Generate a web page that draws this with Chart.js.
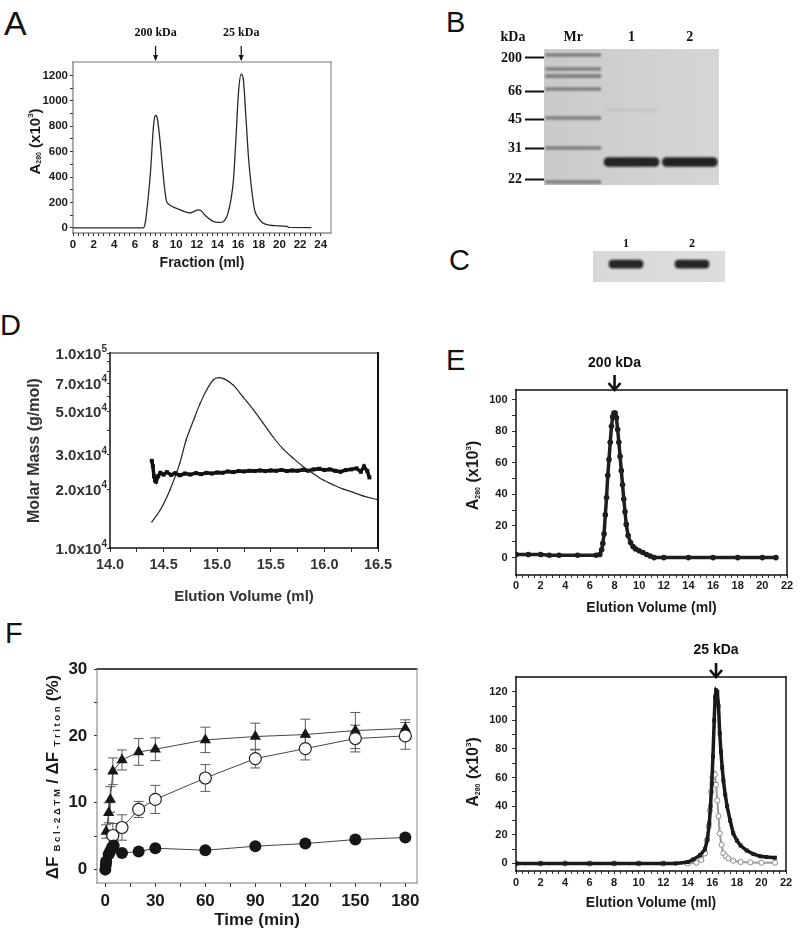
<!DOCTYPE html>
<html>
<head>
<meta charset="utf-8">
<script src="https://cdn.jsdelivr.net/npm/chart.js@4.4.1/dist/chart.umd.min.js"></script>
<style>
  html, body { margin: 0; padding: 0; background: #fff; }
  #page { position: relative; width: 800px; height: 933px; overflow: hidden; background: #fff; }
  #page canvas { position: absolute; left: 0; top: 0; }
  .tag { position: absolute; font-family: 'Liberation Sans', Arial, sans-serif; font-size: 29px; line-height: 1; color: #111; }
</style>
</head>
<body>
<div id="page">
  <div class="tag" style="left:4px;top:6px;font-size:34px">A</div>
  <div class="tag" style="left:446px;top:8px">B</div>
  <div class="tag" style="left:449px;top:246px">C</div>
  <div class="tag" style="left:0px;top:311px">D</div>
  <div class="tag" style="left:446px;top:346px">E</div>
  <div class="tag" style="left:5px;top:619px">F</div>
</div>
<script>
const SANS = "'Liberation Sans', Arial, sans-serif";
const SERIF = "'Liberation Serif', 'Times New Roman', serif";
const W = 800, H = 933;

// ---- A: gel filtration, A280 vs fraction ----
const aVolume = [0, 2, 4, 6, 6.8, 7.0, 7.2, 7.5, 7.8, 7.95, 8.1, 8.35, 8.6, 8.85, 9.05, 9.3, 9.7, 10.2, 10.8, 11.3, 11.7, 12.1, 12.4, 12.8, 13.3, 13.8, 14.3, 14.7, 15.0, 15.3, 15.55, 15.8, 16.05, 16.3, 16.5, 16.75, 17.0, 17.3, 17.6, 17.9, 18.3, 18.8, 19.5, 20.3, 20.8, 20.85, 23.1];
const aAbsorbance = [0, 0, 0, 0, 0, 40, 170, 430, 800, 885, 880, 750, 540, 330, 215, 185, 165, 148, 128, 118, 128, 142, 135, 100, 65, 45, 43, 60, 110, 220, 380, 720, 1080, 1210, 1170, 880, 560, 310, 140, 85, 45, 25, 18, 14, 12, 4, 3];
const aStandardVolume = [8.0, 16.3];
const aStandardLabel = ['200 kDa', '25 kDa'];
const aXTicks = [0, 2, 4, 6, 8, 10, 12, 14, 16, 18, 20, 22, 24];
const aYTicks = [0, 200, 400, 600, 800, 1000, 1200];

// ---- B: SDS-PAGE (band position = % of gel height from the top) ----
const gelLanes = ['Mr', '1', '2'];
const markerBands = [4.4, 14.7, 19.9, 29.4, 50.7, 72.8, 97.8];
const markerTicks = [6.6, 30.9, 51.5, 72.8, 95.6];
const markerLabels = ['200', '66', '45', '31', '22'];
const sampleLanes = ['1', '2'];
const sampleBands = [83.1, 83.1];
const faintLanes = ['1'];
const faintBands = [44.9];

// ---- C: western blot ----
const blotLanes = ['1', '2'];
const blotBands = [42, 42];

// ---- D: SEC-MALS molar mass ----
const dFitVolume = [14.39, 14.47, 14.56, 14.65, 14.71, 14.78, 14.84, 14.90, 14.96, 15.01, 15.06, 15.15, 15.24, 15.34, 15.43, 15.52, 15.61, 15.71, 15.80, 15.89, 15.99, 16.08, 16.17, 16.27, 16.36, 16.50];
const dFitSignal = [13600, 15700, 19900, 27100, 35800, 45300, 55000, 64400, 72500, 74800, 73900, 68400, 59600, 50900, 43600, 37200, 32400, 28800, 26200, 24200, 22300, 21100, 20100, 19300, 18500, 17700];
const dMonoVolume = [14.39, 14.40, 14.41, 14.42, 14.43, 14.45, 14.47, 14.50, 14.53, 14.57, 14.61, 14.65, 14.70, 14.75, 14.80, 14.85, 14.90, 14.95, 15.00, 15.05, 15.10, 15.15, 15.20, 15.25, 15.30, 15.35, 15.40, 15.45, 15.50, 15.55, 15.60, 15.65, 15.70, 15.75, 15.80, 15.85, 15.90, 15.95, 16.00, 16.05, 16.10, 16.15, 16.20, 16.25, 16.30, 16.34, 16.37, 16.40, 16.42];
const dMonoMass = [28000, 26300, 23300, 22200, 21900, 23400, 24300, 23800, 24500, 23700, 24200, 23600, 24100, 23800, 24200, 23900, 24300, 24100, 24400, 24300, 24700, 24500, 24800, 24700, 24900, 24800, 25000, 24800, 25000, 24900, 25100, 24800, 25000, 24900, 25200, 24900, 25300, 25500, 25100, 25300, 24900, 24600, 25100, 25300, 25600, 24600, 26200, 24800, 23000];
const dXTicks = [14.0, 14.5, 15.0, 15.5, 16.0, 16.5];
const dXTickLabels = ['14.0', '14.5', '15.0', '15.5', '16.0', '16.5'];
const dYTicks = [10000, 20000, 30000, 50000, 70000, 100000];
const dYMantissa = ['1.0', '2.0', '3.0', '5.0', '7.0', '1.0'];
const dYExponent = ['4', '4', '4', '4', '4', '5'];
const dYMinor = [10000, 20000, 30000, 40000, 50000, 60000, 70000, 80000, 90000, 100000];

// ---- E top: oligomer peak ----
const etVolume = [0, 1, 2, 2.7, 3.5, 5, 6.5, 6.8, 6.95, 7.05, 7.15, 7.25, 7.35, 7.45, 7.55, 7.65, 7.75, 7.85, 7.95, 8.05, 8.15, 8.25, 8.35, 8.45, 8.55, 8.65, 8.75, 8.85, 8.95, 9.1, 9.3, 9.5, 9.7, 10.0, 10.3, 10.6, 10.9, 11.2, 12, 14, 16, 18, 20, 21.1];
const etAbsorbance = [2, 2, 2, 1.5, 1.5, 1.5, 1.5, 2, 5, 9, 15, 27, 38, 52, 62, 73, 83, 89, 91.5, 91.5, 88.5, 81, 73, 64, 55, 46, 37, 29, 21, 14, 9.5, 7, 5.5, 4.3, 3.2, 2, 1, 0, 0, 0, 0, 0, 0, 0];
const etStandardVolume = [8.0];
const etStandardLabel = ['200 kDa'];

// ---- E bottom: monomer peaks ----
const ebSquareVolume = [0, 2, 4, 6, 8, 10, 12, 13, 14, 14.45, 15.0, 15.4, 15.6, 15.75, 15.85, 15.95, 16.05, 16.15, 16.22, 16.3, 16.4, 16.5, 16.6, 16.7, 16.8, 16.9, 17.05, 17.2, 17.45, 17.7, 18.0, 18.3, 18.8, 19.35, 19.9, 20.4, 21.1];
const ebSquareAbsorbance = [0, 0, 0, 0, 0, 0, 0, 0, 1, 2.8, 5.8, 10, 17, 28, 40, 56, 75, 100, 116, 121, 120, 110, 91, 78, 67, 58, 48, 40, 30, 21, 16, 12.5, 9, 6.5, 5, 4.5, 4];
const ebCircleVolume = [0, 2, 4, 6, 8, 10, 12, 14, 14.7, 15.1, 15.4, 15.55, 15.7, 15.8, 15.9, 16.0, 16.1, 16.2, 16.3, 16.4, 16.5, 16.6, 16.75, 16.9, 17.1, 17.3, 17.7, 18.3, 19.1, 20, 21.1];
const ebCircleAbsorbance = [0, 0, 0, 0, 0, 0, 0, 0, 0.5, 2.3, 7, 16, 26, 37, 50, 60, 63, 62, 55, 44, 33, 21, 13, 7, 5, 3.5, 1.9, 1, 0.7, 0.5, 0.5];
const ebStandardVolume = [16.3];
const ebStandardLabel = ['25 kDa'];
const eXTicks = [0, 2, 4, 6, 8, 10, 12, 14, 16, 18, 20, 22];
const etYTicks = [0, 20, 40, 60, 80, 100];
const ebYTicks = [0, 20, 40, 60, 80, 100, 120];

// ---- F: release kinetics ----
const fTriTime = [0.5, 2, 3, 4.5, 10, 20, 30, 60, 90, 120, 150, 180];
const fTriValue = [5.7, 8.5, 10.5, 14.7, 16.4, 17.6, 18.0, 19.4, 19.9, 20.2, 20.8, 21.1];
const fTriError = [1.0, 1.5, 1.9, 2.0, 1.5, 2.0, 1.7, 1.9, 2.0, 2.3, 2.7, 1.3];
const fOpenTime = [4.5, 10, 20, 30, 60, 90, 120, 150, 180];
const fOpenValue = [5.1, 6.3, 9.0, 10.5, 13.7, 16.6, 18.1, 19.6, 20.0];
const fOpenError = [1.8, 1.9, 1.2, 2.1, 2.0, 1.4, 1.7, 2.0, 2.0];
const fFillTime = [0, 0.3, 0.5, 2, 3, 4, 5, 10, 20, 30, 60, 90, 120, 150, 180];
const fFillValue = [0, 0.7, 1.2, 2.3, 2.8, 3.3, 3.6, 2.5, 2.7, 3.2, 2.9, 3.5, 3.9, 4.5, 4.8];
const fXTicks = [0, 30, 60, 90, 120, 150, 180];
const fYTicks = [0, 10, 20, 30];

// y titles with sub/superscripts: [text, font size, vertical shift]
const titleRuns = {
  a: [['A', 15, 0], ['280', 7, 3.5], [' (x10', 15, 0], ['3', 8, -5], [')', 15, 0]],
  e: [['A', 16, 0], ['280', 7, 4], [' (x10', 16, 0], ['3', 8, -5.5], [')', 16, 0]],
  f: [['\u0394F', 17, 0], ['  B c l - 2 \u0394 T M  ', 9.5, 4], ['/ \u0394F', 17, 0], ['  T r i t o n  ', 9.5, 4], ['(%)', 17, 0]]
};

Chart.defaults.font.family = SANS;
Chart.defaults.color = '#222';
Chart.defaults.animation = false;
Chart.defaults.plugins.legend.display = false;
Chart.defaults.plugins.tooltip.enabled = false;

// box drawn round the plot area, one stroke per side
const frame = {
  id: 'frame',
  afterDatasetsDraw(chart, args, opts) {
    const { ctx, chartArea: a } = chart;
    const sides = {
      top: [a.left, a.top, a.right, a.top],
      right: [a.right, a.top, a.right, a.bottom],
      bottom: [a.left, a.bottom, a.right, a.bottom],
      left: [a.left, a.top, a.left, a.bottom]
    };
    ctx.save();
    ctx.lineCap = 'square';
    for (const side of Object.keys(sides)) {
      const s = opts[side];
      if (!s) continue;
      const p = sides[side];
      ctx.strokeStyle = s[0];
      ctx.lineWidth = s[1];
      ctx.beginPath();
      ctx.moveTo(p[0], p[1]);
      ctx.lineTo(p[2], p[3]);
      ctx.stroke();
    }
    ctx.restore();
  }
};

// rotated y title with sub/superscripts
const richTitle = {
  id: 'richTitle',
  afterDraw(chart, args, opts) {
    if (!opts.key) return;
    const { ctx, chartArea: a } = chart;
    const runs = titleRuns[opts.key];
    ctx.save();
    ctx.translate(opts.x, (a.top + a.bottom) / 2 + (opts.dy || 0));
    ctx.rotate(-Math.PI / 2);
    ctx.fillStyle = '#1a1a1a';
    ctx.textBaseline = 'middle';
    ctx.textAlign = 'left';
    let total = 0;
    for (const [text, size] of runs) {
      ctx.font = `bold ${size}px ${SANS}`;
      total += ctx.measureText(text).width;
    }
    let x = -total / 2;
    for (const [text, size, shift] of runs) {
      ctx.font = `bold ${size}px ${SANS}`;
      ctx.fillText(text, x, shift);
      x += ctx.measureText(text).width;
    }
    ctx.restore();
  }
};

// log-axis labels of panel D: mantissa x10 with a raised exponent
const powerLabels = {
  id: 'powerLabels',
  afterDraw(chart, args, opts) {
    if (!opts.on) return;
    const { ctx, chartArea: a, scales: { y } } = chart;
    ctx.save();
    ctx.fillStyle = '#333';
    ctx.textBaseline = 'alphabetic';
    ctx.textAlign = 'left';
    dYTicks.forEach((v, i) => {
      const py = y.getPixelForValue(v);
      const base = `${dYMantissa[i]}x10`;
      ctx.font = `bold 15px ${SANS}`;
      const w1 = ctx.measureText(base).width;
      ctx.font = `bold 10px ${SANS}`;
      const w2 = ctx.measureText(dYExponent[i]).width;
      const x0 = a.left - 3 - w1 - w2;
      ctx.font = `bold 15px ${SANS}`;
      ctx.fillText(base, x0, py + 5.5);
      ctx.font = `bold 10px ${SANS}`;
      ctx.fillText(dYExponent[i], x0 + w1, py - 1);
    });
    ctx.restore();
  }
};

// molecular weight standards marked above the plot
const standards = {
  id: 'standards',
  afterDraw(chart, args, opts) {
    if (!opts.values) return;
    const { ctx, chartArea: a, scales: { x } } = chart;
    ctx.save();
    ctx.fillStyle = '#111';
    ctx.strokeStyle = '#111';
    opts.values.forEach((v, i) => {
      const px = x.getPixelForValue(v);
      ctx.font = opts.font;
      ctx.textAlign = 'center';
      ctx.textBaseline = 'middle';
      ctx.fillText(opts.labels[i], px, a.top - opts.textGap);
      ctx.lineWidth = opts.lineWidth;
      ctx.beginPath();
      ctx.moveTo(px, a.top - opts.arrowFrom);
      ctx.lineTo(px, a.top - opts.arrowTo);
      ctx.stroke();
      const hw = opts.headWidth, hl = opts.headLength, tip = a.top - opts.arrowTo + 1;
      ctx.beginPath();
      ctx.moveTo(px - hw, tip - hl);
      ctx.lineTo(px, tip);
      ctx.lineTo(px + hw, tip - hl);
      if (opts.open) { ctx.lineJoin = 'miter'; ctx.stroke(); } else { ctx.closePath(); ctx.fill(); }
    });
    ctx.restore();
  }
};

// vertical error bars with caps, under the markers
const errorBars = {
  id: 'errorBars',
  beforeDatasetsDraw(chart, args, opts) {
    if (!opts.cap) return;
    const { ctx, scales: { x, y } } = chart;
    ctx.save();
    ctx.strokeStyle = opts.color;
    ctx.lineWidth = 1;
    for (const ds of chart.data.datasets) {
      if (!ds.errors) continue;
      ds.data.forEach((p, i) => {
        const e = ds.errors[i];
        const px = x.getPixelForValue(p.x);
        const hi = y.getPixelForValue(p.y + e), lo = y.getPixelForValue(p.y - e);
        ctx.beginPath();
        ctx.moveTo(px, hi); ctx.lineTo(px, lo);
        ctx.moveTo(px - opts.cap, hi); ctx.lineTo(px + opts.cap, hi);
        ctx.moveTo(px - opts.cap, lo); ctx.lineTo(px + opts.cap, lo);
        ctx.stroke();
      });
    }
    ctx.restore();
  }
};

// gel / membrane background, bands drawn slightly blurred
const gel = {
  id: 'gel',
  beforeDatasetsDraw(chart, args, opts) {
    if (!opts.color) return;
    const { ctx, chartArea: a } = chart;
    const g = ctx.createLinearGradient(a.left, 0, a.right, 0);
    g.addColorStop(0, opts.color[0]);
    g.addColorStop(1, opts.color[1]);
    ctx.fillStyle = g;
    ctx.fillRect(a.left, a.top, a.right - a.left, a.bottom - a.top);
    ctx.save();
    ctx.filter = `blur(${opts.blur}px)`;
  },
  afterDatasetsDraw(chart, args, opts) {
    if (!opts.color) return;
    chart.ctx.restore();
  }
};

// loose text labels
const notes = {
  id: 'notes',
  afterDraw(chart, args, opts) {
    if (!opts.items) return;
    const { ctx } = chart;
    ctx.save();
    ctx.fillStyle = '#111';
    ctx.textAlign = 'center';
    ctx.textBaseline = 'middle';
    for (const n of opts.items) {
      ctx.font = n.font;
      ctx.fillText(n.text, n.x, n.y);
    }
    ctx.restore();
  }
};

Chart.register(frame, richTitle, powerLabels, standards, errorBars, gel, notes);

function canvas() {
  const c = document.createElement('canvas');
  c.width = W;
  c.height = H;
  document.getElementById('page').appendChild(c);
  return c.getContext('2d');
}

// padding so that the plot area lands on area = [left, top, right, bottom]
function place(area, yW, xH, xOnTop) {
  return {
    left: area[0] - yW,
    right: W - area[2],
    top: xOnTop ? area[1] - xH : area[1],
    bottom: xOnTop ? H - area[3] : H - area[3] - xH
  };
}

function stepTicks(from, to, step) {
  const n = Math.round((to - from) / step);
  return Array.from({ length: n + 1 }, (_, i) => +(from + i * step).toFixed(6));
}

function axis(o) {
  const all = o.all || stepTicks(o.majors[0], o.majors[o.majors.length - 1], o.step);
  const vertical = o.position === 'left';
  return {
    type: o.type || 'linear',
    position: o.position,
    min: o.min,
    max: o.max,
    afterBuildTicks: s => { s.ticks = all.map(v => ({ value: v })); },
    afterFit: s => { if (vertical) s.width = o.size; else s.height = o.size; },
    grid: { drawOnChartArea: false, drawTicks: true, tickLength: o.tick, tickColor: o.tickColor || '#333', tickWidth: 1 },
    border: { display: false },
    ticks: {
      autoSkip: false,
      maxRotation: 0,
      padding: o.pad,
      color: o.color || '#1a1a1a',
      font: { family: SANS, size: o.font, weight: 'bold' },
      callback: v => {
        if (o.noLabels) return '';
        const i = o.majors.findIndex(m => Math.abs(m - v) < 1e-6 * Math.max(1, Math.abs(m)));
        return i < 0 ? '' : (o.labels ? o.labels[i] : String(o.majors[i]));
      }
    },
    title: o.title
      ? { display: true, text: o.title, color: o.color || '#1a1a1a', padding: o.titlePad || 0, font: { family: SANS, size: o.titleSize, weight: 'bold' } }
      : { display: false }
  };
}

const pts = (xs, ys) => xs.map((x, i) => ({ x, y: ys[i] }));

// ---------- A ----------
const aArea = [73, 62, 331, 233];
new Chart(canvas(), {
  type: 'scatter',
  data: {
    datasets: [{
      data: pts(aVolume, aAbsorbance),
      showLine: true,
      borderColor: '#2a2a2a',
      borderWidth: 1.3,
      pointRadius: 0,
      cubicInterpolationMode: 'monotone'
    }]
  },
  options: {
    responsive: false,
    layout: { padding: place(aArea, 60, 38.4) },
    scales: {
      x: axis({ position: 'bottom', min: 0, max: 25, majors: aXTicks, step: 0.5, size: 38.4, tick: 3, pad: 2, font: 11.5, title: 'Fraction (ml)', titleSize: 14 }),
      y: axis({ position: 'left', min: -40, max: 1305, majors: aYTicks, step: 100, size: 60, tick: 3, pad: 2, font: 11.5 })
    },
    plugins: {
      frame: { top: ['#777', 1], right: ['#777', 1], bottom: ['#555', 1], left: ['#555', 1] },
      richTitle: { x: 36, dy: -6, key: 'a' },
      standards: { values: aStandardVolume, labels: aStandardLabel, font: `bold 12px ${SERIF}`, textGap: 29, arrowFrom: 16, arrowTo: 2, lineWidth: 1.2, headWidth: 2.5, headLength: 6, open: false }
    }
  }
});

// ---------- B ----------
const gelArea = [544, 49, 719, 185];
new Chart(canvas(), {
  type: 'bar',
  data: {
    labels: gelLanes,
    datasets: [
      { data: markerBands.map(p => ({ x: 'Mr', y: [p - 1.1, p + 1.1] })), backgroundColor: '#7c7c7c', barThickness: 55, grouped: false },
      { data: faintBands.map((p, i) => ({ x: faintLanes[i], y: [p - 0.4, p + 0.4] })), backgroundColor: '#bcbcbc', barThickness: 50, grouped: false },
      { data: sampleBands.map((p, i) => ({ x: sampleLanes[i], y: [p - 3.3, p + 3.3] })), backgroundColor: '#232323', barThickness: 55, borderRadius: 5, borderSkipped: false, grouped: false }
    ]
  },
  options: {
    responsive: false,
    layout: { padding: place(gelArea, 60, 20, true) },
    scales: {
      x: {
        type: 'category', position: 'top', offset: true,
        afterFit: s => { s.height = 20; },
        grid: { display: false, drawTicks: false },
        border: { display: false },
        ticks: { padding: 3.6, color: '#111', font: { family: SERIF, size: 14, weight: 'bold' } }
      },
      y: {
        type: 'linear', position: 'left', reverse: true, min: 0, max: 100,
        afterBuildTicks: s => { s.ticks = markerTicks.map(v => ({ value: v })); },
        afterFit: s => { s.width = 60; },
        grid: { drawOnChartArea: false, drawTicks: true, tickLength: 19, tickWidth: 2, tickColor: '#111' },
        border: { display: false },
        ticks: { autoSkip: false, padding: 3, color: '#111', font: { family: SERIF, size: 14, weight: 'bold' }, callback: (v, i) => markerLabels[i] }
      }
    },
    plugins: {
      gel: { color: ['#cacaca', '#d6d6d6'], blur: 1 },
      notes: { items: [{ text: 'kDa', x: 513, y: 37, font: `bold 14px ${SERIF}` }] }
    }
  }
});

// ---------- C ----------
const blotArea = [593, 251, 725, 282];
new Chart(canvas(), {
  type: 'bar',
  data: {
    labels: blotLanes,
    datasets: [
      { data: blotBands.map((p, i) => ({ x: blotLanes[i], y: [p - 13, p + 13] })), backgroundColor: '#252525', barThickness: 34, borderRadius: 4, borderSkipped: false, grouped: false }
    ]
  },
  options: {
    responsive: false,
    layout: { padding: place(blotArea, 0, 12, true) },
    scales: {
      x: {
        type: 'category', position: 'top', offset: true,
        afterFit: s => { s.height = 12; },
        grid: { display: false, drawTicks: false },
        border: { display: false },
        ticks: { padding: 0, color: '#111', font: { family: SERIF, size: 12, weight: 'bold' } }
      },
      y: { type: 'linear', display: false, reverse: true, min: 0, max: 100 }
    },
    plugins: {
      gel: { color: ['#d8d8d8', '#dddddd'], blur: 1 }
    }
  }
});

// ---------- D ----------
const dArea = [110, 353, 378, 548];
new Chart(canvas(), {
  type: 'scatter',
  data: {
    datasets: [
      {
        data: pts(dFitVolume, dFitSignal),
        showLine: true, borderColor: '#222', borderWidth: 1.2,
        pointRadius: 0.8, pointBackgroundColor: '#444', pointBorderWidth: 0,
        cubicInterpolationMode: 'monotone'
      },
      {
        data: pts(dMonoVolume, dMonoMass),
        showLine: true, borderColor: '#111', borderWidth: 3.5,
        pointStyle: 'rect', pointRadius: 2.8, pointBackgroundColor: '#111', pointBorderWidth: 0
      }
    ]
  },
  options: {
    responsive: false,
    layout: { padding: place(dArea, 90, 58) },
    scales: {
      x: axis({ position: 'bottom', min: 14, max: 16.5, majors: dXTicks, labels: dXTickLabels, step: 0.25, size: 58, tick: 4, pad: 4.5, font: 14.5, color: '#333', title: 'Elution Volume (ml)', titleSize: 15 }),
      y: axis({ type: 'logarithmic', position: 'left', min: 10000, max: 100000, majors: dYTicks, all: dYMinor, noLabels: true, size: 90, tick: 3, pad: 1, font: 15, color: '#333', title: 'Molar Mass (g/mol)', titleSize: 16, titlePad: 5.4 })
    },
    plugins: {
      powerLabels: { on: true },
      frame: { top: ['#888', 2.2], right: ['#111', 2], bottom: ['#111', 1.5], left: ['#111', 1.5] }
    }
  }
});

// ---------- E top ----------
const etArea = [516, 390, 787, 575];
new Chart(canvas(), {
  type: 'scatter',
  data: {
    datasets: [{
      data: pts(etVolume, etAbsorbance),
      showLine: true, borderColor: '#1e1e1e', borderWidth: 3.5,
      pointRadius: 2.8, pointBackgroundColor: '#1e1e1e', pointBorderWidth: 0
    }]
  },
  options: {
    responsive: false,
    layout: { padding: place(etArea, 60, 41.4) },
    scales: {
      x: axis({ position: 'bottom', min: 0, max: 22, majors: eXTicks, step: 0.5, size: 41.4, tick: 3, pad: 1.4, font: 11, title: 'Elution Volume (ml)', titleSize: 14 }),
      y: axis({ position: 'left', min: -11, max: 106, majors: etYTicks, step: 10, size: 60, tick: 4, pad: 4.5, font: 11 })
    },
    plugins: {
      frame: { top: ['#111', 1.5], right: ['#111', 1.5], bottom: ['#111', 1.5], left: ['#111', 1.5] },
      richTitle: { x: 474, dy: -7, key: 'e' },
      standards: { values: etStandardVolume, labels: etStandardLabel, font: `bold 14px ${SANS}`, textGap: 27, arrowFrom: 15, arrowTo: 1, lineWidth: 2.6, headWidth: 6, headLength: 7, open: true }
    }
  }
});

// ---------- E bottom ----------
const ebArea = [516, 677, 786, 871];
new Chart(canvas(), {
  type: 'scatter',
  data: {
    datasets: [
      {
        data: pts(ebSquareVolume, ebSquareAbsorbance),
        showLine: true, borderColor: '#1a1a1a', borderWidth: 3.5,
        pointStyle: 'rect', pointRadius: 2.8, pointBackgroundColor: '#1a1a1a', pointBorderWidth: 0
      },
      {
        data: pts(ebCircleVolume, ebCircleAbsorbance),
        showLine: true, borderColor: '#9a9a9a', borderWidth: 2,
        pointRadius: 2.6, pointBackgroundColor: '#fff', pointBorderColor: '#8a8a8a', pointBorderWidth: 1
      }
    ]
  },
  options: {
    responsive: false,
    layout: { padding: place(ebArea, 60, 40.4) },
    scales: {
      x: axis({ position: 'bottom', min: 0, max: 22, majors: eXTicks, step: 0.5, size: 40.4, tick: 3, pad: 2.4, font: 11, title: 'Elution Volume (ml)', titleSize: 14 }),
      y: axis({ position: 'left', min: -5.3, max: 130.3, majors: ebYTicks, step: 10, size: 60, tick: 4, pad: 4.5, font: 11 })
    },
    plugins: {
      frame: { top: ['#111', 1.5], right: ['#111', 1.5], bottom: ['#111', 1.5], left: ['#111', 1.5] },
      richTitle: { x: 474, dy: -2, key: 'e' },
      standards: { values: ebStandardVolume, labels: ebStandardLabel, font: `bold 14px ${SANS}`, textGap: 27, arrowFrom: 14, arrowTo: 1, lineWidth: 2.6, headWidth: 6, headLength: 7, open: true }
    }
  }
});

// ---------- F ----------
const fArea = [97, 669, 417, 883];
new Chart(canvas(), {
  type: 'scatter',
  data: {
    datasets: [
      {
        data: pts(fFillTime, fFillValue),
        showLine: true, borderColor: '#444', borderWidth: 1,
        pointRadius: 6, pointBackgroundColor: '#161616', pointBorderColor: '#161616', pointBorderWidth: 0
      },
      {
        data: pts(fOpenTime, fOpenValue), errors: fOpenError,
        showLine: true, borderColor: '#444', borderWidth: 1,
        pointRadius: 6, pointBackgroundColor: '#fff', pointBorderColor: '#222', pointBorderWidth: 1.2
      },
      {
        data: pts(fTriTime, fTriValue), errors: fTriError,
        showLine: true, borderColor: '#444', borderWidth: 1,
        pointStyle: 'triangle', pointRadius: 6.5, pointBackgroundColor: '#161616', pointBorderColor: '#161616', pointBorderWidth: 0
      }
    ]
  },
  options: {
    responsive: false,
    layout: { padding: place(fArea, 60, 47.2) },
    scales: {
      x: axis({ position: 'bottom', min: -5, max: 187, majors: fXTicks, step: 15, size: 47.2, tick: 4, pad: 4.5, font: 17, title: 'Time (min)', titleSize: 17 }),
      y: axis({ position: 'left', min: -2, max: 30, majors: fYTicks, step: 5, size: 60, tick: 3, pad: 6.7, font: 17 })
    },
    plugins: {
      errorBars: { cap: 5, color: '#5a5a5a' },
      frame: { top: ['#111', 1.4], right: ['#888', 1], bottom: ['#777', 1], left: ['#777', 1] },
      richTitle: { x: 53, dy: 1, key: 'f' }
    }
  }
});
</script>
</body>
</html>
